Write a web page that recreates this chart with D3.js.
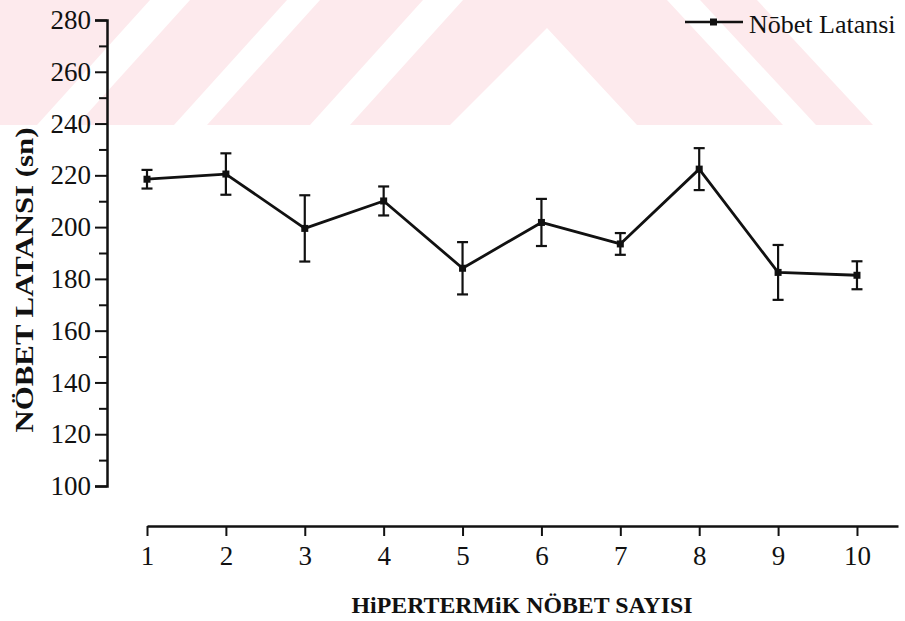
<!DOCTYPE html>
<html>
<head>
<meta charset="utf-8">
<script src="https://cdn.jsdelivr.net/npm/d3@7/dist/d3.min.js"></script>
<style>
  html, body { margin: 0; padding: 0; background: #fff; }
  svg { display: block; }
  text { font-family: "Liberation Serif", "Times New Roman", serif; fill: #111; }
</style>
</head>
<body>
<svg id="chart" width="905" height="621"></svg>
<script>
// Seizure session number (x) and mean seizure latency in seconds (y) with SEM
const sessions = [1, 2, 3, 4, 5, 6, 7, 8, 9, 10];
const latency  = [218.5, 220.5, 199.5, 210.1, 184.1, 201.8, 193.5, 222.4, 182.5, 181.4];
const sem      = [3.6, 8.0, 12.8, 5.6, 10.1, 9.1, 4.2, 8.1, 10.6, 5.4];
const yMajorTicks = [100, 120, 140, 160, 180, 200, 220, 240, 260, 280];
const yMinorTicks = [110, 130, 150, 170, 190, 210, 230, 250, 270];
const seriesName = "Nōbet Latansi";
const xTitle = "HiPERTERMiK NÖBET SAYISI";
const yTitle = "NÖBET  LATANSI (sn)";

// Faint watermark band across the top of the page
const watermark = [
  [[-300, 0], [150, 0], [37, 125], [-413, 125]],
  [[190, 0], [287, 0], [174, 125], [77, 125]],
  [[320, 0], [423, 0], [310, 125], [207, 125]],
  [[463, 0], [667, 0], [783, 125], [637, 125], [547, 28], [450, 125], [350, 125]],
  [[700, 0], [757, 0], [873, 125], [816, 125]]
];

const svg = d3.select("#chart");

svg.append("g").selectAll("polygon")
  .data(watermark)
  .join("polygon")
  .attr("points", d => d.map(p => p.join(",")).join(" "))
  .attr("fill", "#fdeaed");

const x = d3.scaleLinear().domain([1, 10.52]).range([147, 898]);
const y = d3.scaleLinear().domain([100, 280]).range([486, 20]);

// Y axis: labelled major ticks plus short unlabelled minor ticks
const yAxis = svg.append("g")
  .attr("transform", `translate(${x.range()[0] - 40},0)`)
  .call(d3.axisLeft(y).tickValues(yMajorTicks).tickSize(12).tickPadding(4).tickFormat(d3.format("d")));
yAxis.select(".domain").attr("stroke-width", 2.5);
yAxis.selectAll(".tick line").attr("stroke-width", 2);
yAxis.selectAll(".tick text").attr("font-size", 27).attr("font-family", "Liberation Serif").attr("fill", "#111");

const yMinor = svg.append("g")
  .attr("transform", `translate(${x.range()[0] - 40},0)`)
  .call(d3.axisLeft(y).tickValues(yMinorTicks).tickSize(8).tickFormat(""));
yMinor.select(".domain").remove();
yMinor.selectAll(".tick line").attr("stroke-width", 2);

// X axis
const xAxis = svg.append("g")
  .attr("transform", "translate(0,526)")
  .call(d3.axisBottom(x).tickValues(sessions).tickSize(10).tickSizeOuter(0).tickPadding(10).tickFormat(d3.format("d")));
xAxis.select(".domain").attr("stroke-width", 2.5);
xAxis.selectAll(".tick line").attr("stroke-width", 2);
xAxis.selectAll(".tick text").attr("font-size", 27).attr("font-family", "Liberation Serif").attr("fill", "#111");

svg.selectAll(".domain, .tick line").attr("stroke", "#111");

const data = sessions.map((s, i) => ({ s, v: latency[i], e: sem[i] }));

// Error bars
const eb = svg.append("g").attr("stroke", "#111").attr("stroke-width", 2.2);
eb.selectAll("line.v").data(data).join("line").attr("class", "v")
  .attr("x1", d => x(d.s)).attr("x2", d => x(d.s))
  .attr("y1", d => y(d.v - d.e)).attr("y2", d => y(d.v + d.e));
eb.selectAll("line.t").data(data).join("line").attr("class", "t")
  .attr("x1", d => x(d.s) - 5.5).attr("x2", d => x(d.s) + 5.5)
  .attr("y1", d => y(d.v + d.e)).attr("y2", d => y(d.v + d.e));
eb.selectAll("line.b").data(data).join("line").attr("class", "b")
  .attr("x1", d => x(d.s) - 5.5).attr("x2", d => x(d.s) + 5.5)
  .attr("y1", d => y(d.v - d.e)).attr("y2", d => y(d.v - d.e));

// Mean line with square markers
svg.append("path")
  .datum(data)
  .attr("fill", "none")
  .attr("stroke", "#111")
  .attr("stroke-width", 2.8)
  .attr("stroke-linejoin", "round")
  .attr("d", d3.line().x(d => x(d.s)).y(d => y(d.v)));

svg.append("g").selectAll("rect")
  .data(data)
  .join("rect")
  .attr("x", d => x(d.s) - 3.5)
  .attr("y", d => y(d.v) - 3.5)
  .attr("width", 7)
  .attr("height", 7)
  .attr("fill", "#111");

// Legend
const legend = svg.append("g").attr("transform", "translate(685,22)");
legend.append("line").attr("x1", 0).attr("x2", 58).attr("y1", 0).attr("y2", 0)
  .attr("stroke", "#111").attr("stroke-width", 2.4);
legend.append("rect").attr("x", 25).attr("y", -3.5).attr("width", 7).attr("height", 7).attr("fill", "#111");
legend.append("text").attr("x", 64).attr("y", 11).attr("font-size", 26).text(seriesName);

// Axis titles
svg.append("text")
  .attr("x", 522).attr("y", 613)
  .attr("text-anchor", "middle")
  .attr("font-size", 24).attr("font-weight", "bold")
  .attr("textLength", 341).attr("lengthAdjust", "spacingAndGlyphs")
  .text(xTitle);

svg.append("text")
  .attr("transform", "translate(33,280) rotate(-90)")
  .attr("text-anchor", "middle")
  .attr("font-size", 26).attr("font-weight", "bold")
  .attr("textLength", 305).attr("lengthAdjust", "spacingAndGlyphs")
  .text(yTitle);
</script>
</body>
</html>
